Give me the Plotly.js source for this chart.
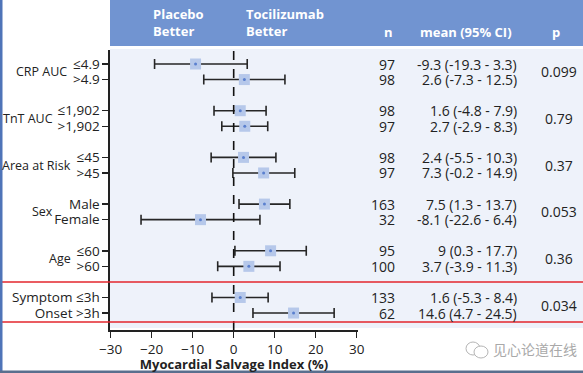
<!DOCTYPE html>
<html>
<head>
<meta charset="utf-8">
<script src="https://cdn.plot.ly/plotly-3.0.1.min.js"></script>
<style>
  html, body { margin: 0; padding: 0; background: #ffffff; }
  #chart { width: 583px; height: 373px; }
</style>
</head>
<body>
<div id="chart"></div>
<script>
// ---------------- DATA ----------------
const groupLabels = ["CRP AUC", "TnT AUC", "Area at Risk", "Sex", "Age", ""];
const rowLabels = ["≤4.9", ">4.9", "≤1,902", ">1,902", "≤45", ">45",
                   "Male", "Female", "≤60", ">60", "Symptom ≤3h", "Onset >3h"];
const means  = [-9.3, 2.6, 1.6, 2.7, 2.4, 7.3, 7.5, -8.1, 9, 3.7, 1.6, 14.6];
const lows   = [-19.3, -7.3, -4.8, -2.9, -5.5, -0.2, 1.3, -22.6, 0.3, -3.9, -5.3, 4.7];
const highs  = [3.3, 12.5, 7.9, 8.3, 10.3, 14.9, 13.7, 6.4, 17.7, 11.3, 8.4, 24.5];
const nValues = [97, 98, 98, 97, 98, 97, 163, 32, 95, 100, 133, 62];
const pValues = ["0.099", "0.79", "0.37", "0.053", "0.36", "0.034"];
const xTicks = [-30, -20, -10, 0, 10, 20, 30];

// ---------------- LAYOUT HELPERS ----------------
const W = 583, H = 373;
const M = { l: 110, r: 225, t: 50, b: 43 };
const plotW = W - M.l - M.r, plotH = H - M.t - M.b;
const px2x = px => (px - M.l) / plotW;
const px2y = py => (H - M.b - py) / plotH;

const rowY = rowLabels.map((_, i) => 3 * Math.floor(i / 2) + (i % 2));
const groupY = pValues.map((_, g) => 3 * g + 0.5);
const groupRightPx = [68, 54, 72, 54, 72, 0];

const FONT = "'Open Sans', 'DejaVu Sans', sans-serif";
const TXT = "#222222";

const errPlus = highs.map((h, i) => +(h - means[i]).toFixed(2));
const errMinus = lows.map((l, i) => +(means[i] - l).toFixed(2));

const traces = [
  {
    type: "scatter", mode: "markers", x: means, y: rowY,
    marker: { size: 1, opacity: 0 },
    error_x: { type: "data", symmetric: false, array: errPlus, arrayminus: errMinus,
               color: "#262626", thickness: 1.6, width: 5 },
    hoverinfo: "skip", showlegend: false
  },
  {
    type: "scatter", mode: "markers", x: means, y: rowY,
    marker: { symbol: "square", size: 11, color: "#b6c8ea", line: { width: 0 } },
    showlegend: false
  },
  {
    type: "scatter", mode: "markers", x: means, y: rowY,
    marker: { symbol: "circle", size: 3, color: "#5b80cf", line: { width: 0 } },
    showlegend: false
  }
];

const shapes = [
  // header band
  { type: "rect", xref: "paper", yref: "paper", x0: px2x(110), x1: px2x(W), y0: px2y(46), y1: px2y(0),
    fillcolor: "#7194d1", line: { width: 0 }, layer: "below" },
  // light plot background
  { type: "rect", xref: "paper", yref: "paper", x0: px2x(110), x1: px2x(W), y0: px2y(328), y1: px2y(49),
    fillcolor: "#eef2fa", line: { width: 0 }, layer: "below" },
  // zero reference line
  { type: "line", xref: "x", yref: "paper", x0: 0, x1: 0, y0: 0, y1: 1,
    line: { color: "#111111", width: 1.6, dash: "dash" }, layer: "above" },
  // red highlight lines
  { type: "line", xref: "paper", yref: "paper", x0: px2x(0), x1: px2x(W), y0: px2y(282), y1: px2y(282),
    line: { color: "#e3262d", width: 1.5 }, layer: "above" },
  { type: "line", xref: "paper", yref: "paper", x0: px2x(0), x1: px2x(W), y0: px2y(322), y1: px2y(322),
    line: { color: "#e3262d", width: 1.5 }, layer: "above" },
  // left border strip
  { type: "rect", xref: "paper", yref: "paper", x0: px2x(0), x1: px2x(2.5), y0: px2y(H), y1: px2y(0),
    fillcolor: "#4f74b8", line: { width: 0 }, layer: "above" },
  // bottom border strip
  { type: "rect", xref: "paper", yref: "paper", x0: px2x(0), x1: px2x(W), y0: px2y(H), y1: px2y(370.5),
    fillcolor: "#5a6f8e", line: { width: 0 }, layer: "above" },
  // watermark icon (two small bubbles)
  { type: "circle", xref: "paper", yref: "paper", x0: px2x(466), x1: px2x(480), y0: px2y(355), y1: px2y(342),
    line: { color: "#b5b5b5", width: 1 }, fillcolor: "rgba(0,0,0,0)", layer: "above" },
  { type: "circle", xref: "paper", yref: "paper", x0: px2x(474), x1: px2x(488), y0: px2y(358), y1: px2y(346),
    line: { color: "#b5b5b5", width: 1 }, fillcolor: "#ffffff", layer: "above" }
];

const annotations = [];
// header texts
const hdrFont = { family: FONT, size: 13, color: "#ffffff" };
annotations.push({ xref: "paper", yref: "paper", x: px2x(151), y: px2y(23), xanchor: "left", yanchor: "middle",
  text: "<b>Placebo<br>Better</b>", align: "left", showarrow: false, font: hdrFont });
annotations.push({ xref: "paper", yref: "paper", x: px2x(244), y: px2y(23), xanchor: "left", yanchor: "middle",
  text: "<b>Tocilizumab<br>Better</b>", align: "left", showarrow: false, font: hdrFont });
annotations.push({ xref: "paper", yref: "paper", x: px2x(388), y: px2y(32), xanchor: "center", yanchor: "middle",
  text: "<b>n</b>", showarrow: false, font: hdrFont });
annotations.push({ xref: "paper", yref: "paper", x: px2x(466), y: px2y(32), xanchor: "center", yanchor: "middle",
  text: "<b>mean (95% CI)</b>", showarrow: false, font: hdrFont });
annotations.push({ xref: "paper", yref: "paper", x: px2x(556), y: px2y(32), xanchor: "center", yanchor: "middle",
  text: "<b>p</b>", showarrow: false, font: hdrFont });

// group labels
groupLabels.forEach((g, k) => {
  if (!g) return;
  annotations.push({ xref: "paper", yref: "y", x: px2x(groupRightPx[k]), y: groupY[k],
    xanchor: "right", yanchor: "middle", text: g, showarrow: false, borderpad: 0,
    font: { family: FONT, size: 12.5, color: TXT } });
});

// table: n, mean (CI), p
const tblFont = { family: FONT, size: 14, color: TXT };
rowY.forEach((y, i) => {
  annotations.push({ xref: "paper", yref: "y", x: px2x(396), y: y, xanchor: "right", yanchor: "middle",
    text: String(nValues[i]), showarrow: false, borderpad: 0, font: tblFont });
  annotations.push({ xref: "paper", yref: "y", x: px2x(518), y: y, xanchor: "right", yanchor: "middle",
    text: means[i] + " (" + lows[i] + " - " + highs[i] + ")", showarrow: false, borderpad: 0, font: tblFont });
});
pValues.forEach((p, g) => {
  annotations.push({ xref: "paper", yref: "y", x: px2x(559), y: groupY[g], xanchor: "center", yanchor: "middle",
    text: p, showarrow: false, borderpad: 0, font: tblFont });
});

// watermark
annotations.push({ xref: "paper", yref: "paper", x: px2x(491), y: px2y(349), xanchor: "left", yanchor: "middle",
  text: "见心论道在线", showarrow: false,
  font: { family: "'Noto Sans CJK SC', sans-serif", size: 14, color: "#a9a9a9" } });

const layout = {
  width: W, height: H,
  margin: M,
  paper_bgcolor: "rgba(0,0,0,0)",
  plot_bgcolor: "rgba(0,0,0,0)",
  showlegend: false,
  font: { family: FONT, color: TXT },
  xaxis: {
    range: [-30.17, 30.32], tickvals: xTicks, ticks: "outside", ticklen: 6, tickwidth: 1.5,
    tickcolor: "#222", showline: true, linecolor: "#222", linewidth: 1.6,
    showgrid: false, zeroline: false, fixedrange: true,
    tickfont: { family: FONT, size: 13.5, color: TXT },
    title: { text: "<b>Myocardial Salvage Index (%)</b>", standoff: 4,
             font: { family: FONT, size: 13, color: TXT } }
  },
  yaxis: {
    range: [17.09, -0.9], tickvals: rowY, ticktext: rowLabels, ticks: "outside", ticklen: 6, tickwidth: 1.5,
    tickcolor: "#222", showline: true, linecolor: "#222", linewidth: 1.6,
    showgrid: false, zeroline: false, fixedrange: true,
    tickfont: { family: FONT, size: 13.5, color: TXT }
  },
  shapes: shapes,
  annotations: annotations
};

Plotly.newPlot("chart", traces, layout, { staticPlot: true, displayModeBar: false });
</script>
</body>
</html>
